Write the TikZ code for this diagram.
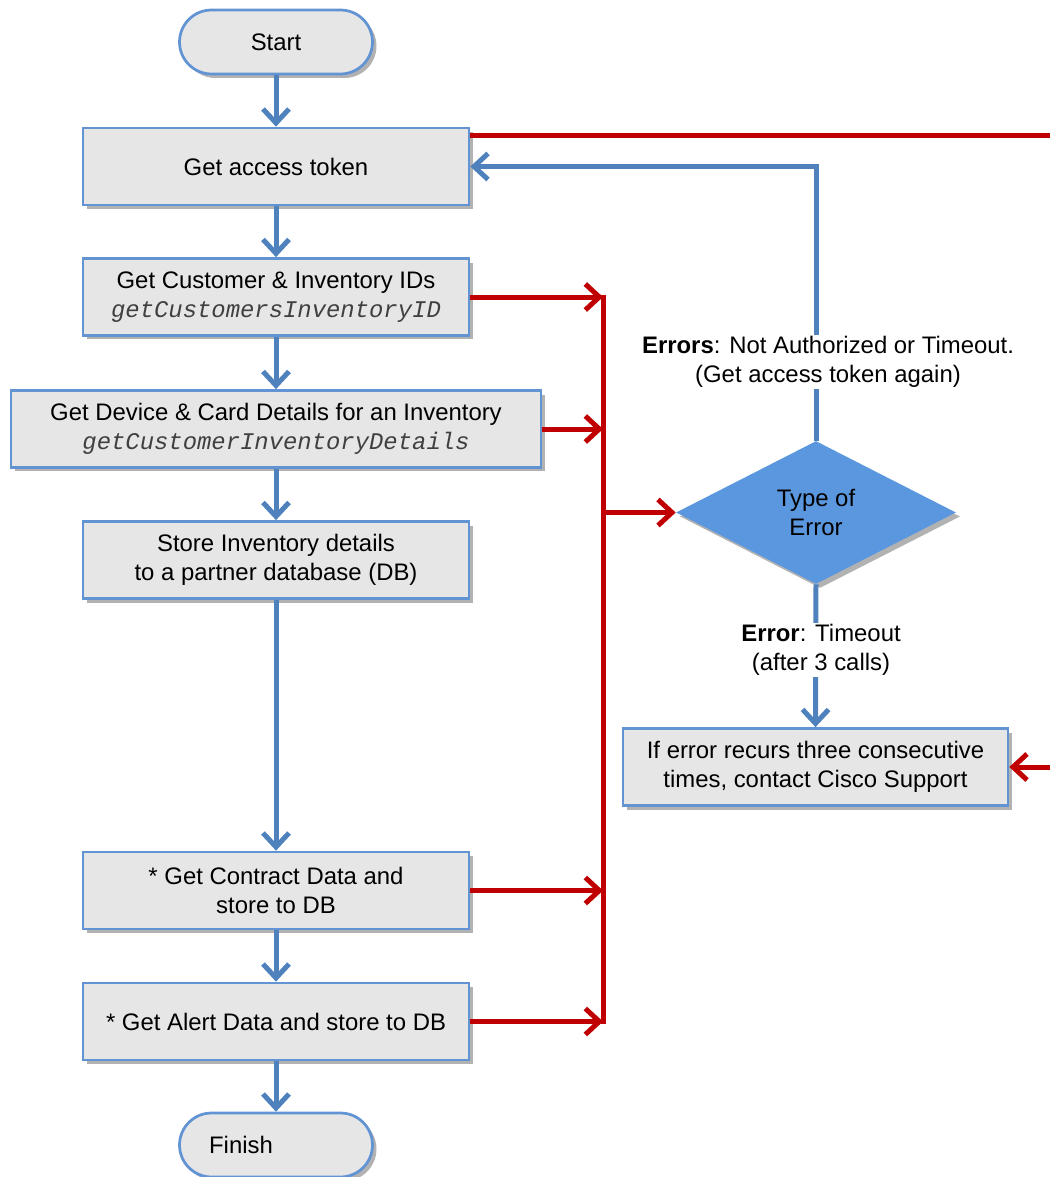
\documentclass[tikz,border=0pt]{standalone}
\usepackage{fontspec}
\setmainfont{Liberation Sans}
\setmonofont{Liberation Mono}
\usetikzlibrary{arrows.meta,shapes.geometric,shadows}
\definecolor{flowblue}{RGB}{79,129,189}
\definecolor{boxedge}{RGB}{98,148,212}
\definecolor{boxfill}{RGB}{230,230,230}
\definecolor{diafill}{RGB}{91,151,222}
\definecolor{errred}{RGB}{192,0,0}
% API method names are set in an italic typewriter face
\newcommand{\apicall}[1]{{\color{black!75}\ttfamily\itshape #1}}

\begin{document}
\begin{tikzpicture}[x=0.02cm,y=-0.02cm,
  font=\fontsize{13.6}{16.6}\selectfont,
  softshadow/.style={drop shadow={shadow xshift=0.08cm,shadow yshift=-0.08cm,opacity=0.3,fill=black}},
  stepbox/.style={draw=boxedge,line width=0.055cm,fill=boxfill,align=center,
    minimum width=7.72cm,minimum height=1.54cm,inner sep=2pt,softshadow},
  terminal/.style={stepbox,rounded corners=0.64cm,minimum width=3.86cm,minimum height=1.28cm},
  decision/.style={diamond,fill=diafill,align=center,minimum width=5.6cm,
    minimum height=2.86cm,inner sep=0pt,softshadow},
  flow/.style={draw=flowblue,line width=0.1cm,-{Straight Barb[length=0.28cm,width=0.52cm]}},
  fail/.style={draw=errred,line width=0.1cm,-{Straight Barb[length=0.28cm,width=0.52cm]}},
  failbus/.style={draw=errred,line width=0.1cm},
  tag/.style={fill=white,align=center,inner sep=1pt}]

\useasboundingbox (0,0) rectangle (1050,1177);

% main sequence of calls
\node[terminal] (start) at (276,42) {Start};
\node[stepbox] (token) at (276,166.5) {Get access token};
\node[stepbox] (ids) at (276,297) {Get Customer \& Inventory IDs\\\apicall{getCustomersInventoryID}};
\node[stepbox,minimum width=10.6cm] (device) at (276,429)
  {Get Device \& Card Details for an Inventory\\\apicall{getCustomerInventoryDetails}};
\node[stepbox] (store) at (276,560) {Store Inventory details\\to a partner database (DB)};
\node[stepbox] (contract) at (276,890.5) {* Get Contract Data and\\store to DB};
\node[stepbox] (alert) at (276,1021.5) {* Get Alert Data and store to DB};
\node[terminal] (finish) at (276,1145) {Finish\hspace{1.4cm}};

% error handling
\node[decision] (type) at (816,512.5) {Type of\\Error};
\node[stepbox,minimum width=7.7cm] (support) at (815.5,767)
  {If error recurs three consecutive\\times, contact Cisco Support};

\foreach \a/\b in {start/token,token/ids,ids/device,device/store,store/contract,contract/alert,alert/finish}
  \draw[flow] (\a) -- (\b);

% red error bus
\coordinate (bus) at (603,297);
\coordinate (edge) at (1062,137);
\draw[failbus] ([yshift=0.05cm]ids.east -| bus) -- ([yshift=-0.05cm]alert.east -| bus);
\draw[fail] (ids.east) -- (ids.east -| bus);
\draw[fail] (device.east) -- (device.east -| bus);
\draw[fail] (contract.east) -- (contract.east -| bus);
\draw[fail] (alert.east) -- (alert.east -| bus);
\draw[fail] (type.west -| bus) -- (type.west);
\coordinate (tokenout) at ([yshift=-0.18cm]token.north east);
\draw[fail] (tokenout) -- (tokenout -| edge) |- (support.east);

% retry and give-up branches
\draw[flow] (type.north) |- (token.east);
\node[tag] (retry) at (828,362) {\textbf{Errors}: Not Authorized or Timeout.\\(Get access token again)};
\draw[flow] (type.south) -- (support.north);
\node[tag] (giveup) at (821,650) {\textbf{Error}: Timeout\\(after 3 calls)};
\end{tikzpicture}
\end{document}
